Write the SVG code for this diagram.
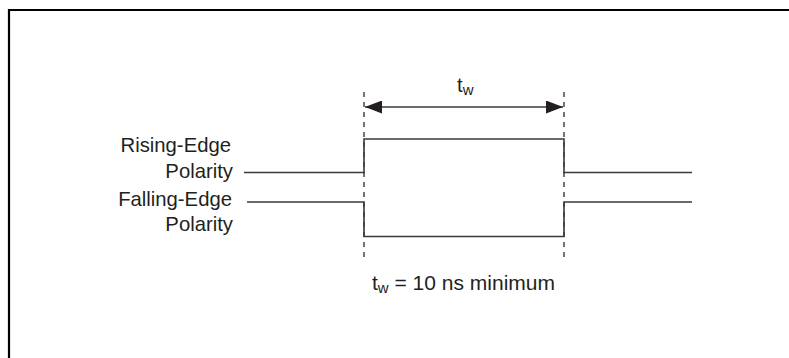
<svg xmlns="http://www.w3.org/2000/svg" width="789" height="358" viewBox="0 0 789 358">
<style>
.frame{fill:none;stroke:#000;stroke-width:2.2}
.sig{fill:none;stroke:#3a3a3a;stroke-width:1.6}
.dash{fill:none;stroke:#3a3a3a;stroke-width:1.4;stroke-dasharray:5,5}
.dim{fill:none;stroke:#3a3a3a;stroke-width:1.6}
text{font-family:"Liberation Sans",Arial,sans-serif;font-size:20.3px;fill:#231f20}
.sub{font-size:15px}
.note{font-size:21px}
</style>
<defs>
<marker id="ah" viewBox="0 0 17 13" refX="17" refY="6.5" markerWidth="17" markerHeight="13" markerUnits="userSpaceOnUse" orient="auto-start-reverse">
<path d="M0,0 L17,6.5 L0,13 Z" fill="#231f20"/>
</marker>
</defs>
<path class="frame" d="M9,358 V10 H789"/>
<g id="connectors">
<path class="dash" d="M364,92 V262"/>
<path class="dash" d="M564,92 V262"/>
<path class="dim" d="M365,107 H563" marker-start="url(#ah)" marker-end="url(#ah)"/>
</g>
<g id="rising-edge">
<path class="sig" d="M244,172.5 H364 V139 H564 V172.5 H692"/>
<text x="231" y="152" text-anchor="end">Rising-Edge</text>
<text x="233" y="177.5" text-anchor="end">Polarity</text>
</g>
<g id="falling-edge">
<path class="sig" d="M247,202 H364 V236.5 H564 V202 H692"/>
<text x="232" y="206" text-anchor="end">Falling-Edge</text>
<text x="233" y="231" text-anchor="end">Polarity</text>
</g>
<g id="tw-label">
<text x="457" y="92">t<tspan class="sub" dy="3">w</tspan></text>
</g>
<g id="tw-note">
<text class="note" x="372" y="290">t<tspan class="sub" dy="3">w</tspan><tspan dy="-3"> = 10 ns minimum</tspan></text>
</g>
</svg>
